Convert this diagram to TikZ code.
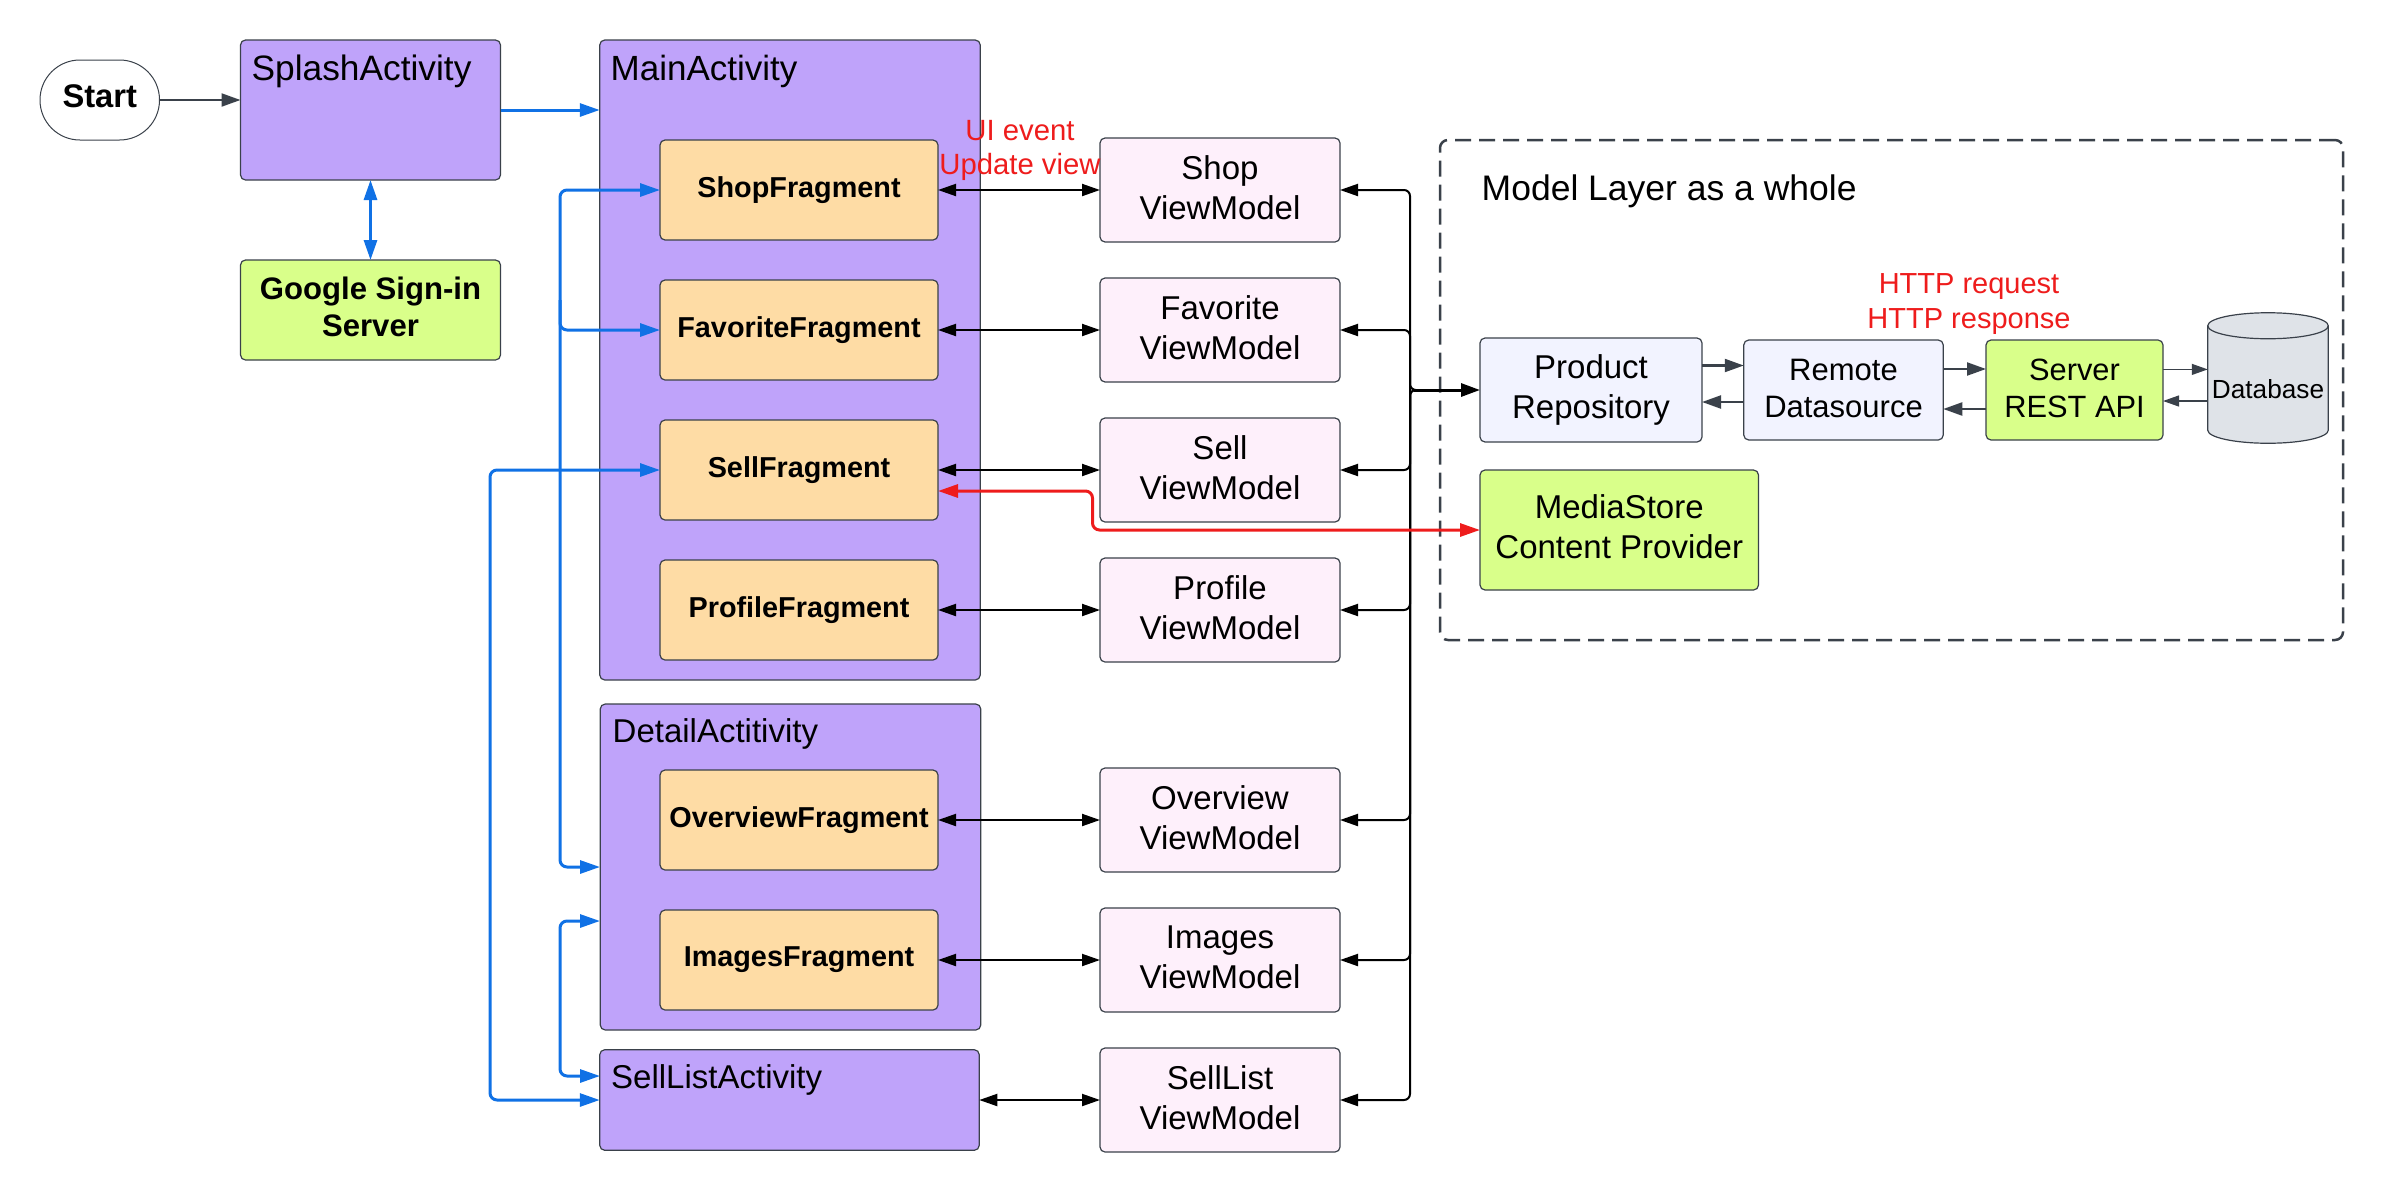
\documentclass[tikz,border=0pt]{standalone}
\usepackage{fontspec}
\setmainfont{Liberation Sans}
\usetikzlibrary{arrows.meta,calc}
\definecolor{actfill}{HTML}{BFA3FA}
\definecolor{fragfill}{HTML}{FEDCA5}
\definecolor{greenfill}{HTML}{D9FF8A}
\definecolor{vmfill}{HTML}{FEF0FB}
\definecolor{repofill}{HTML}{F2F3FF}
\definecolor{dbfill}{HTML}{DFE3E8}
\definecolor{edgegrey}{HTML}{3A414A}
\definecolor{bluelink}{HTML}{1071E5}
\definecolor{redlink}{HTML}{EE1C1C}
\newcommand{\fsz}[2]{\fontsize{#1}{#2}\selectfont}
\tikzset{
  x=1pt,y=-1pt,
  base/.style={draw=edgegrey,line width=1.2pt,rounded corners=5pt,inner sep=0pt,outer sep=0pt,align=center,text=black},
  actbox/.style={base,fill=actfill},
  fragbox/.style={base,fill=fragfill,minimum width=278pt,minimum height=100pt,font=\bfseries\fsz{28.8}{34}},
  vmbox/.style={base,fill=vmfill,minimum width=240pt,minimum height=104pt,text depth=5pt,font=\fsz{33}{40}},
  repobox/.style={base,fill=repofill},
  greenbox/.style={base,fill=greenfill},
  actlabel/.style={anchor=base west,inner sep=0pt,font=\fsz{35}{40}},
  actlabelsm/.style={anchor=base west,inner sep=0pt,font=\fsz{33}{40}},
  redlabel/.style={align=center,inner sep=0pt,text=redlink},
  bk/.style={draw=black,line width=2pt,{Triangle[length=18pt,width=12pt]}-{Triangle[length=18pt,width=12pt]}},
  bustip/.style={draw=black,line width=2pt,rounded corners=6pt,-{Triangle[length=18pt,width=12pt]}},
  bl/.style={draw=bluelink,line width=3pt,rounded corners=7pt,-{Triangle[length=20pt,width=13pt]}},
  blboth/.style={bl,{Triangle[length=20pt,width=13pt]}-{Triangle[length=20pt,width=13pt]}},
  gy/.style={draw=edgegrey,line width=2.2pt,-{Triangle[length=19pt,width=13pt]}},
  gythin/.style={draw=edgegrey,line width=1.2pt,-{Triangle[length=16pt,width=11pt]}},
  rd/.style={draw=redlink,line width=3pt,rounded corners=7pt,{Triangle[length=20pt,width=13pt]}-{Triangle[length=20pt,width=13pt]}},
}
\begin{document}
\begin{tikzpicture}
\useasboundingbox (0,0) rectangle (2383,1192);
% dashed model layer
\node[draw=edgegrey,line width=2.5pt,dash pattern=on 16pt off 8pt,rounded corners=8pt,minimum width=903pt,minimum height=500pt,inner sep=0pt] (model) at (1891.5,390) {};
\node[actlabel,font=\fsz{35.5}{40}] (modellabel) at (1481.5,200.5) {Model Layer as a whole};
% start and splash
\node[base,line width=1pt,rounded corners=39.9pt,fill=white,minimum width=119.5pt,minimum height=80pt,font=\bfseries\fsz{32.7}{38}] (start) at (99.75,100) {\raisebox{7pt}{Start}};
\node[actbox,minimum width=260pt,minimum height=140pt] (splash) at (370.5,110) {};
\node[actlabel,font=\fsz{35.3}{40}] (splashlabel) at (251.5,80) {SplashActivity};
\node[greenbox,minimum width=260pt,minimum height=100pt,text depth=6pt,font=\bfseries\fsz{31.1}{37}] (google) at (370.5,310) {Google Sign-in\\Server};
% activities
\node[actbox,minimum width=380.5pt,minimum height=640pt] (main) at (790,360) {};
\node[actlabel] (mainlabel) at (610.5,80) {MainActivity};
\node[actbox,minimum width=380.5pt,minimum height=326pt] (detail) at (790.5,867) {};
\node[actlabelsm] (detaillabel) at (612.5,742.7) {DetailActitivity};
\node[actbox,minimum width=379.5pt,minimum height=100.6pt] (selllist) at (789.5,1100) {};
\node[actlabelsm] (selllistlabel) at (611,1088.3) {SellListActivity};
% fragments
\node[fragbox] (shopf) at (799,190) {ShopFragment};
\node[fragbox] (favf) at (799,330) {FavoriteFragment};
\node[fragbox] (sellf) at (799,470) {SellFragment};
\node[fragbox] (proff) at (799,610) {ProfileFragment};
\node[fragbox] (overf) at (799,820) {OverviewFragment};
\node[fragbox] (imgf) at (799,960) {ImagesFragment};
% viewmodels
\node[vmbox] (shopv) at (1220,190) {Shop\\ViewModel};
\node[vmbox] (favv) at (1220,330) {Favorite\\ViewModel};
\node[vmbox] (sellv) at (1220,470) {Sell\\ViewModel};
\node[vmbox] (profv) at (1220,610) {Profile\\ViewModel};
\node[vmbox] (overv) at (1220,820) {Overview\\ViewModel};
\node[vmbox] (imgv) at (1220,960) {Images\\ViewModel};
\node[vmbox] (slv) at (1220,1100) {SellList\\ViewModel};
% model layer nodes
\node[repobox,minimum width=222pt,minimum height=104pt,font=\fsz{33}{40}] (repo) at (1591,390) {Product\\Repository};
\node[repobox,minimum width=199.5pt,minimum height=100pt,text depth=3pt,font=\fsz{31}{37}] (remote) at (1843.5,390) {Remote\\Datasource};
\node[greenbox,minimum width=177pt,minimum height=100pt,text depth=3pt,font=\fsz{30.8}{37}] (server) at (2074.5,390) {Server\\REST API};
% database cylinder
\node[inner sep=0pt,outer sep=0pt,minimum width=120.5pt,minimum height=130.5pt] (db) at (2268,378) {};
\begin{scope}[shift={(db.center)}]
\draw[draw=edgegrey,line width=1.2pt,fill=dbfill]
  (-60.25,-52.25) .. controls (-60.25,-59.43) and (-33.3,-65.25) .. (0,-65.25)
  .. controls (33.3,-65.25) and (60.25,-59.43) .. (60.25,-52.25)
  -- (60.25,52.25) .. controls (60.25,59.43) and (33.3,65.25) .. (0,65.25)
  .. controls (-33.3,65.25) and (-60.25,59.43) .. (-60.25,52.25) -- cycle;
\draw[draw=edgegrey,line width=1.2pt]
  (-60.25,-52.25) .. controls (-60.25,-45.07) and (-33.3,-39.25) .. (0,-39.25)
  .. controls (33.3,-39.25) and (60.25,-45.07) .. (60.25,-52.25);
\end{scope}
\node[inner sep=0pt,font=\fsz{26.2}{30}] (dblabel) at (2268,389) {Database};
\node[greenbox,minimum width=278.5pt,minimum height=120pt,text depth=6pt,font=\fsz{33}{40}] (media) at (1619.25,530) {MediaStore\\Content Provider};
% red labels
\node[redlabel,font=\fsz{29.3}{34}] (uilabel) at (1020,150) {UI event\\Update view};
\node[redlabel,font=\fsz{29}{34.5}] (httplabel) at (1969,304) {HTTP request\\HTTP response};
% connectors
\draw[gy] (start.east |- 0,100) -- (splash.west |- 0,100);
\draw[bl] (splash.east) -- (splash.east -| main.west);
\draw[blboth] (splash.south) -- (google.north);
\coordinate (inbus) at (560,330);
\coordinate (outbus) at (490,470);
\coordinate (detailin) at (600,867);
\coordinate (detailup) at (600,921);
\coordinate (slin) at (600,1076);
\draw[blboth] (shopf.west) -| (inbus) |- (detailin);
\draw[bl] (inbus |- 0,300) |- (favf.west);
\draw[blboth] (sellf.west) -- (outbus) |- (selllist.west);
\draw[blboth] (detailup) -| (inbus |- 0,990) |- (slin);
\foreach \a/\b in {shopf/shopv,favf/favv,sellf/sellv,proff/profv,overf/overv,imgf/imgv}{
  \draw[bk] (\a.east) -- (\b.west);
}
\draw[bk] (selllist.east) -- (slv.west);
\coordinate (busj) at (1410,390);
\foreach \b in {shopv,favv,sellv,profv,overv,imgv,slv}{
  \draw[bustip] (busj) |- (\b.east);
}
\draw[draw=black,line width=2pt,rounded corners=6pt] (busj |- 0,370) |- (1425,390);
\draw[draw=black,line width=2pt,rounded corners=6pt] (busj |- 0,410) |- (1425,390);
\draw[draw=black,line width=3pt,-{Triangle[length=19pt,width=13pt]}] ([xshift=4pt]busj) -- (repo.west);
\coordinate (redbend) at (1092.5,530);
\draw[rd] (sellf.east |- 0,491) -| (redbend) -- (media.west);
\draw[gy] ([yshift=24.5pt]repo.east) -- ([yshift=24.5pt]repo.east -| remote.west);
\draw[gy] ([yshift=-12pt]remote.west) -- ([yshift=-12pt]remote.west -| repo.east);
\draw[gy] ([yshift=21pt]remote.east) -- ([yshift=21pt]remote.east -| server.west);
\draw[gy] ([yshift=-19pt]server.west) -- ([yshift=-19pt]server.west -| remote.east);
\draw[gythin] ([yshift=20.6pt]server.east) -- ([yshift=20.6pt]server.east -| db.west);
\draw[gythin] ([yshift=-11pt]server.east -| db.west) -- ([yshift=-11pt]server.east);
\end{tikzpicture}
\end{document}
